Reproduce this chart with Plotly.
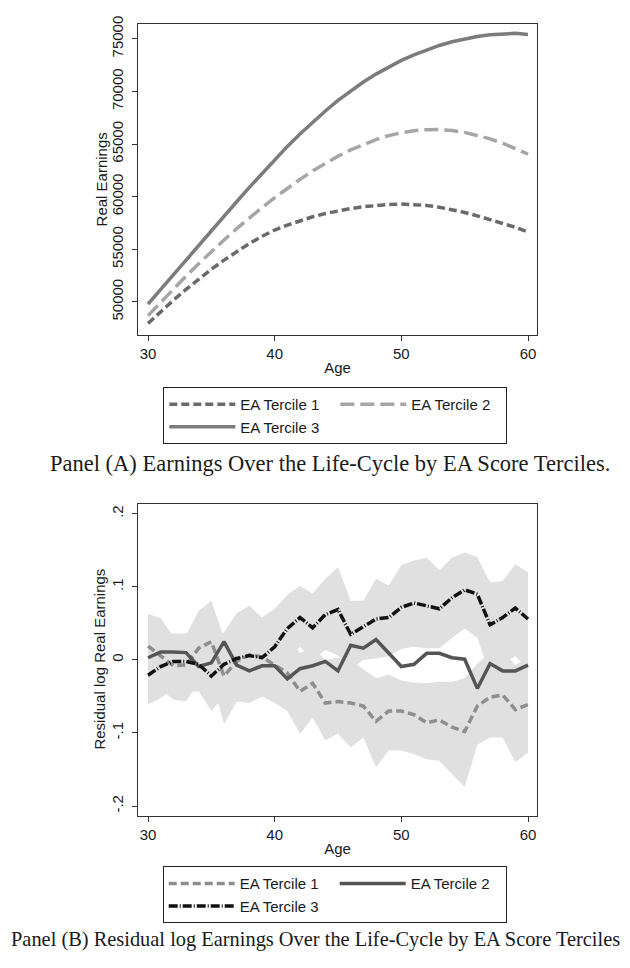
import plotly.graph_objects as go

# ---------------- data ----------------
ages = list(range(30, 61))

# Panel A: real earnings by EA tercile
earn_t1 = [47950, 49080, 50160, 51190, 52170, 53100, 53970, 54790, 55550, 56230,
           56830, 57300, 57730, 58090, 58400, 58660, 58870, 59040, 59170, 59260,
           59300, 59270, 59170, 59000, 58780, 58500, 58180, 57840, 57480, 57090, 56650]
earn_t2 = [48700, 49970, 51220, 52440, 53630, 54780, 55890, 56960, 57990, 58970,
           59900, 60800, 61650, 62450, 63180, 63850, 64450, 64980, 65430, 65800,
           66080, 66270, 66370, 66380, 66290, 66110, 65840, 65500, 65080, 64600, 64050]
earn_t3 = [49800, 51200, 52600, 53990, 55380, 56770, 58150, 59520, 60880, 62220,
           63540, 64780, 65960, 67080, 68140, 69150, 70050, 70900, 71650, 72330,
           72950, 73480, 73950, 74370, 74720, 75000, 75220, 75380, 75480, 75520, 75420]

# Panel B: residual log earnings by EA tercile
res_t1 = [0.019, 0.006, -0.008, -0.007, 0.016, 0.025, -0.022, -0.002, 0.007, 0.004,
          -0.007, -0.018, -0.043, -0.032, -0.059, -0.057, -0.059, -0.063, -0.084, -0.070,
          -0.070, -0.075, -0.086, -0.082, -0.092, -0.098, -0.063, -0.051, -0.048, -0.068, -0.061]
res_t2 = [0.003, 0.011, 0.011, 0.010, -0.009, -0.004, 0.025, -0.007, -0.015, -0.008,
          -0.008, -0.026, -0.012, -0.008, -0.002, -0.015, 0.020, 0.016, 0.028, 0.010,
          -0.009, -0.006, 0.009, 0.009, 0.003, 0.001, -0.039, -0.005, -0.015, -0.015, -0.007]
res_t3 = [-0.021, -0.009, -0.002, -0.002, -0.006, -0.022, -0.006, 0.002, 0.006, 0.003,
          0.018, 0.043, 0.058, 0.044, 0.062, 0.069, 0.035, 0.045, 0.056, 0.058,
          0.072, 0.078, 0.074, 0.070, 0.085, 0.096, 0.090, 0.048, 0.058, 0.071, 0.056]

ci_t1_lo = [-0.030, -0.040, -0.054, -0.057, -0.030, -0.025, -0.088, -0.057, -0.059, -0.050,
            -0.059, -0.070, -0.101, -0.079, -0.110, -0.101, -0.120, -0.106, -0.147, -0.124,
            -0.124, -0.129, -0.136, -0.138, -0.156, -0.174, -0.116, -0.106, -0.106, -0.140, -0.127]
ci_t1_hi = [0.063, 0.057, 0.032, 0.034, 0.067, 0.081, 0.030, 0.050, 0.060, 0.050,
            0.045, 0.030, 0.009, 0.018, 0.000, 0.003, 0.000, -0.012, -0.025, -0.020,
            -0.028, -0.031, -0.032, -0.030, -0.030, -0.025, -0.005, 0.010, 0.012, -0.007, 0.003]
ci_t3_lo = [-0.061, -0.052, -0.040, -0.045, -0.043, -0.070, -0.050, -0.045, -0.045, -0.040,
            -0.025, 0.000, 0.018, 0.000, 0.014, 0.006, -0.012, 0.000, 0.002, 0.005,
            0.015, 0.018, 0.016, 0.016, 0.030, 0.043, 0.030, -0.020, -0.005, 0.005, -0.012]
ci_t3_hi = [0.020, 0.035, 0.036, 0.036, 0.038, 0.025, 0.038, 0.064, 0.074, 0.058,
            0.070, 0.089, 0.101, 0.091, 0.111, 0.127, 0.081, 0.081, 0.111, 0.102,
            0.130, 0.136, 0.140, 0.123, 0.140, 0.147, 0.141, 0.106, 0.108, 0.131, 0.120]

x_ticks = [30, 40, 50, 60]
y1_ticks = [50000, 55000, 60000, 65000, 70000, 75000]
y2_ticks = [-0.2, -0.1, 0, 0.1, 0.2]
y2_ticktext = ["-.2", "-.1", "0", ".1", ".2"]
labels = ["EA Tercile 1", "EA Tercile 2", "EA Tercile 3"]

# ---------------- figure ----------------
SANS = "Liberation Sans, Arial, sans-serif"
SERIF = "Liberation Serif, Times New Roman, serif"
TXT = "#1a1a1a"
BAND = "#e0e0e0"

fig = go.Figure()

# Panel A lines
fig.add_trace(go.Scatter(x=ages, y=earn_t1, mode="lines", name=labels[0],
                         line=dict(color="#6a6a6a", width=3.5, dash="8px,4px"),
                         xaxis="x", yaxis="y", legend="legend"))
fig.add_trace(go.Scatter(x=ages, y=earn_t2, mode="lines", name=labels[1],
                         line=dict(color="#a6a6a6", width=3.5, dash="14px,6px"),
                         xaxis="x", yaxis="y", legend="legend"))
fig.add_trace(go.Scatter(x=ages, y=earn_t3, mode="lines", name=labels[2],
                         line=dict(color="#7c7c7c", width=3.5),
                         xaxis="x", yaxis="y", legend="legend"))

# Panel B confidence bands
for lo, hi in [(ci_t1_lo, ci_t1_hi), (ci_t3_lo, ci_t3_hi)]:
    fig.add_trace(go.Scatter(x=ages, y=lo, mode="lines", line=dict(width=0, color=BAND),
                             showlegend=False, hoverinfo="skip", xaxis="x2", yaxis="y2"))
    fig.add_trace(go.Scatter(x=ages, y=hi, mode="lines", line=dict(width=0, color=BAND),
                             fill="tonexty", fillcolor=BAND,
                             showlegend=False, hoverinfo="skip", xaxis="x2", yaxis="y2"))

# Panel B lines
fig.add_trace(go.Scatter(x=ages, y=res_t1, mode="lines", name=labels[0],
                         line=dict(color="#8e8e8e", width=3.5, dash="8px,4px"),
                         xaxis="x2", yaxis="y2", legend="legend2"))
fig.add_trace(go.Scatter(x=ages, y=res_t2, mode="lines", name=labels[1],
                         line=dict(color="#555555", width=3.5),
                         xaxis="x2", yaxis="y2", legend="legend2"))
fig.add_trace(go.Scatter(x=ages, y=res_t3, mode="lines", name=labels[2],
                         line=dict(color="#111111", width=3.5, dash="9px,2px,1px,2px"),
                         xaxis="x2", yaxis="y2", legend="legend2"))

axis_common = dict(showline=True, mirror=True, linecolor="#333333", linewidth=1.3,
                   ticks="outside", ticklen=5, tickwidth=1.2, tickcolor="#333333",
                   showgrid=False, zeroline=False, ticklabeloverflow="allow",
                   tickfont=dict(family=SANS, size=15, color=TXT))
yaxis_extra = dict(tickangle=-90, ticklabelstandoff=3)

# the page body adds an 8px offset; plot area in screenshot pixels: x 138..537, y 16..816
OFF = 8
PL, PR, PT, PB = 138, 537, 16, 816


def py(Y):
    return (PB - Y) / (PB - PT)


def px(X):
    return (X - PL) / (PR - PL)


legend_common = dict(orientation="h", xanchor="left", yanchor="top",
                     bgcolor="white", bordercolor="#222222", borderwidth=1,
                     font=dict(family=SANS, size=15, color=TXT),
                     itemwidth=66, entrywidth=90, traceorder="normal",
                     itemclick=False, itemdoubleclick=False)

title_font = dict(family=SANS, size=15, color=TXT)

fig.update_layout(
    width=630, height=968,
    margin=dict(l=PL - OFF, r=630 - (PR - OFF), t=PT - OFF, b=968 - (PB - OFF)),
    paper_bgcolor="white", plot_bgcolor="white",
    showlegend=True,
    xaxis=dict(axis_common, domain=[0, 1], range=[29.21, 60.71], tickvals=x_ticks,
               anchor="y", title=dict(text="Age", standoff=1, font=title_font)),
    yaxis=dict(axis_common, **yaxis_extra, domain=[py(330), 1.0], range=[46870, 76410],
               tickvals=y1_ticks, tickformat="d", anchor="x"),
    xaxis2=dict(axis_common, domain=[0, 1], range=[29.21, 60.71], tickvals=x_ticks,
                anchor="y2", title=dict(text="Age", standoff=1, font=title_font)),
    yaxis2=dict(axis_common, **yaxis_extra, domain=[0.0, py(500.7)], range=[-0.2136, 0.2136],
                tickvals=y2_ticks, ticktext=y2_ticktext, anchor="x2"),
    legend=dict(legend_common, x=px(163.3), y=py(382.7)),
    legend2=dict(legend_common, x=px(162.7), y=py(866.7)),
    annotations=[
        dict(text="Real Earnings", textangle=-90,
             xref="paper", yref="paper", x=px(101), y=py(173), xanchor="center", yanchor="middle",
             showarrow=False, font=title_font),
        dict(text="Residual log Real Earnings", textangle=-90,
             xref="paper", yref="paper", x=px(100), y=py(658), xanchor="center", yanchor="middle",
             showarrow=False, font=title_font),
        dict(text="Panel (A) Earnings Over the Life-Cycle by EA Score Terciles.",
             xref="paper", yref="paper", x=px(330), y=py(460), xanchor="center", yanchor="middle",
             showarrow=False, font=dict(family=SERIF, size=22.5, color=TXT)),
        dict(text="Panel (B) Residual log Earnings Over the Life-Cycle by EA Score Terciles",
             xref="paper", yref="paper", x=px(315), y=py(941), xanchor="center", yanchor="middle",
             showarrow=False, font=dict(family=SERIF, size=20.4, color=TXT)),
    ],
)

fig.write_html("out.html")
